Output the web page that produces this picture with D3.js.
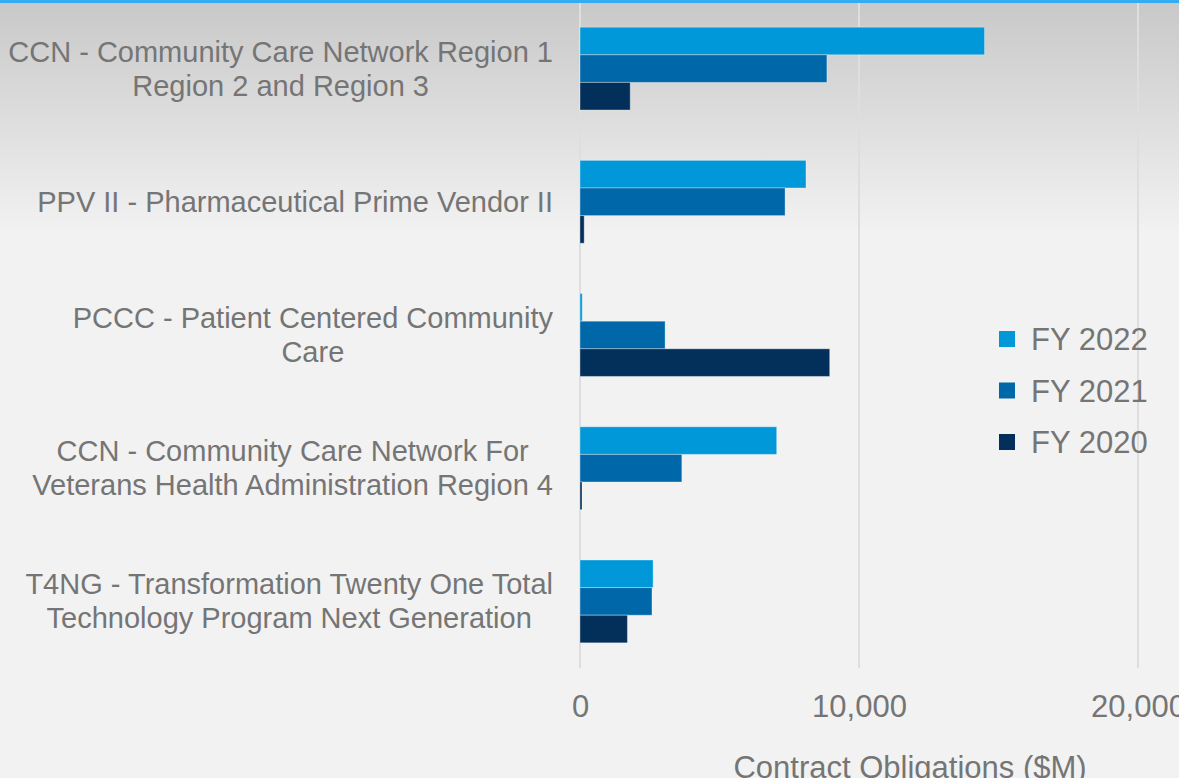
<!DOCTYPE html>
<html>
<head>
<meta charset="utf-8">
<script src="https://cdn.jsdelivr.net/npm/d3@7"></script>
<style>
  html, body { margin: 0; padding: 0; background: #f2f2f2; }
  svg { display: block; font-family: "Liberation Sans", Arial, sans-serif; }
</style>
</head>
<body>
<div id="chart"></div>
<script>
// categories top to bottom, "\n" marks the line break in the label
const categories = [
  "CCN - Community Care Network Region 1\nRegion 2 and Region 3",
  "PPV II - Pharmaceutical Prime Vendor II",
  "PCCC - Patient Centered Community\nCare",
  "CCN - Community Care Network For\nVeterans Health Administration Region 4",
  "T4NG - Transformation Twenty One Total\nTechnology Program Next Generation"
];
const seriesNames = ["FY 2022", "FY 2021", "FY 2020"];
// contract obligations ($M), same order as categories
const fy2022 = [14500, 8100, 80, 7050, 2620];
const fy2021 = [8850, 7350, 3050, 3650, 2580];
const fy2020 = [1800, 150, 8950, 60, 1700];
const xTicks = [0, 10000, 20000];

const seriesValues = [fy2022, fy2021, fy2020];
const colors = ["#0098d8", "#0067a8", "#03305a"];
const textColor = "#757575";

const width = 1179, height = 778;
const svg = d3.select("#chart").append("svg")
  .attr("width", width)
  .attr("height", height);

// background gradient
const grad = svg.append("defs").append("linearGradient")
  .attr("id", "bg").attr("x1", 0).attr("y1", 0).attr("x2", 0).attr("y2", 1);
grad.append("stop").attr("offset", "0%").attr("stop-color", "#c8c8c8");
grad.append("stop").attr("offset", "30%").attr("stop-color", "#f2f2f2");
grad.append("stop").attr("offset", "100%").attr("stop-color", "#f2f2f2");
svg.append("rect").attr("width", width).attr("height", height).attr("fill", "url(#bg)");

// top accent line
svg.append("rect").attr("x", 0).attr("y", 0).attr("width", width).attr("height", 3)
  .attr("fill", "#35acf2");

const x = d3.scaleLinear().domain([0, 20000]).range([580, 1138]);
const y = d3.scaleBand().domain(categories).range([2, 668])
  .paddingInner(0.378).paddingOuter(0.189);
const ySub = d3.scaleBand().domain(seriesNames).range([0, y.bandwidth()]);

// gridlines
svg.append("g").selectAll("line")
  .data(xTicks)
  .enter().append("line")
  .attr("x1", d => x(d)).attr("x2", d => x(d))
  .attr("y1", 3).attr("y2", 668)
  .attr("stroke", "#dedede")
  .attr("stroke-width", 2);

// bars
const groups = svg.append("g").selectAll("g")
  .data(categories)
  .enter().append("g")
  .attr("transform", d => `translate(0,${y(d)})`);

groups.selectAll("rect")
  .data((c, i) => seriesNames.map((s, j) => ({ series: s, value: seriesValues[j][i], color: colors[j] })))
  .enter().append("rect")
  .attr("x", x(0))
  .attr("y", d => ySub(d.series))
  .attr("width", d => Math.max(2, x(d.value) - x(0)))
  .attr("height", ySub.bandwidth())
  .attr("fill", d => d.color)
  .attr("stroke", "rgba(255,255,255,0.35)")
  .attr("stroke-width", 1);

// category labels: centered lines, block right-aligned at the axis
const lineH = 34;
categories.forEach(c => {
  const lines = c.split("\n");
  const t = svg.append("text")
    .attr("font-size", 29)
    .attr("fill", textColor)
    .attr("text-anchor", "middle");
  const cy = y(c) + y.bandwidth() / 2;
  lines.forEach((ln, i) => {
    t.append("tspan")
      .attr("x", 0)
      .attr("y", cy + (i - (lines.length - 1) / 2) * lineH + 10)
      .text(ln);
  });
  const maxW = d3.max(t.selectAll("tspan").nodes(), n => n.getComputedTextLength());
  t.selectAll("tspan").attr("x", 553 - maxW / 2);
});

// x axis tick labels
const xAxis = svg.append("g")
  .attr("transform", "translate(0,668)")
  .call(d3.axisBottom(x).tickValues(xTicks).tickSize(0).tickFormat(d3.format(",")));
xAxis.select(".domain").remove();
xAxis.selectAll("text")
  .attr("y", 49).attr("dy", 0)
  .attr("font-size", 31)
  .attr("font-family", "Liberation Sans, Arial, sans-serif")
  .attr("fill", textColor);

// axis title
svg.append("text")
  .attr("x", 910).attr("y", 778)
  .attr("text-anchor", "middle")
  .attr("font-size", 31)
  .attr("fill", textColor)
  .text("Contract Obligations ($M)");

// legend
const legend = svg.append("g").selectAll("g")
  .data(seriesNames)
  .enter().append("g")
  .attr("transform", (d, i) => `translate(999,${339 + i * 51.5})`);
legend.append("rect")
  .attr("x", 0).attr("y", -8).attr("width", 16).attr("height", 16)
  .attr("fill", (d, i) => colors[i]);
legend.append("text")
  .attr("x", 32).attr("y", 11)
  .attr("font-size", 31)
  .attr("fill", textColor)
  .text(d => d);
</script>
</body>
</html>
